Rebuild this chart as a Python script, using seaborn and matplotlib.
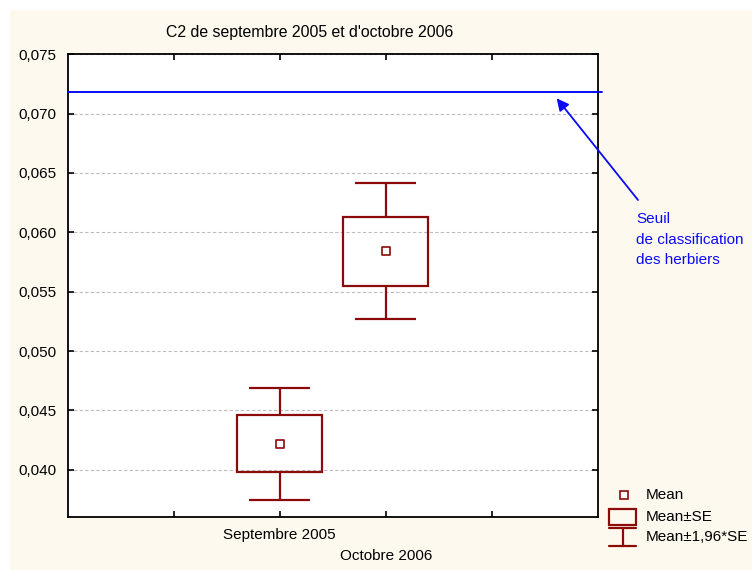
import numpy as np
import pandas as pd
import matplotlib
matplotlib.use("Agg")
import matplotlib.pyplot as plt
from matplotlib.patches import Rectangle
from matplotlib.lines import Line2D
from matplotlib.ticker import FuncFormatter, FixedLocator
import seaborn as sns

# Data: C2 means with standard errors per sampling campaign
categories = ["Septembre 2005", "Octobre 2006"]
positions = [2, 3]
means = [0.04218, 0.05840]
std_errs = [0.00241, 0.00292]
ci_factor = 1.96
threshold = 0.0718
y_ticks = [0.040, 0.045, 0.050, 0.055, 0.060, 0.065, 0.070, 0.075]

title = "C2 de septembre 2005 et d'octobre 2006"
note = "Seuil\nde classification\ndes herbiers"
legend_labels = ["Mean", "Mean±SE", "Mean±1,96*SE"]

df = pd.DataFrame({"cat": categories, "pos": positions,
                   "mean": means, "se": std_errs})

sns.set_theme(style="white")
plt.rcParams["font.family"] = ["Liberation Sans", "DejaVu Sans"]
FS = 11.0
RED = "#8B0A0A"
BLUE = "#0A0AF5"
CREAM = "#FEF9EE"

W, H = 752, 570
fig = plt.figure(figsize=(W / 100, H / 100), dpi=100, facecolor="white")
fig.patches.append(Rectangle((10 / W, 0), 1 - 10 / W, 1 - 10 / H,
                             transform=fig.transFigure, facecolor=CREAM,
                             edgecolor="none", zorder=-10))

ax = fig.add_axes([67.7 / W, 1 - 516.7 / H, (597.7 - 67.7) / W,
                   (516.7 - 54.3) / H])
ax.set_facecolor("white")

ax.set_xlim(0, 5)
ax.set_ylim(0.03604, 0.075)

# dashed horizontal grid
for yv in y_ticks:
    ax.axhline(yv, color="#BDBDBD", lw=0.8, ls=(0, (3, 2)), zorder=0)

box_w = 0.80
cap_w = 0.57
for _, r in df.iterrows():
    lo, hi = r["mean"] - r["se"], r["mean"] + r["se"]
    wlo, whi = r["mean"] - ci_factor * r["se"], r["mean"] + ci_factor * r["se"]
    ax.add_patch(Rectangle((r["pos"] - box_w / 2, lo), box_w, hi - lo,
                           facecolor="none", edgecolor=RED, lw=1.6, zorder=3))
    ax.vlines(r["pos"], hi, whi, color=RED, lw=1.6, zorder=3)
    ax.vlines(r["pos"], wlo, lo, color=RED, lw=1.6, zorder=3)
    ax.hlines([wlo, whi], r["pos"] - cap_w / 2, r["pos"] + cap_w / 2,
              color=RED, lw=1.6, zorder=3)

sns.scatterplot(data=df, x="pos", y="mean", marker="s", s=40,
                facecolor="white", edgecolor=RED, linewidth=1.2,
                ax=ax, zorder=4, legend=False)
ax.set_xlabel("")
ax.set_ylabel("")

# threshold line, extending slightly past the right frame
ax.axhline(threshold, xmin=0, xmax=1.0075, color=BLUE, lw=1.4,
           clip_on=False, zorder=5)

ax.annotate("", xy=(4.613, 0.07129), xycoords="data",
            xytext=(638 / W, 1 - 200 / H), textcoords="figure fraction",
            arrowprops=dict(arrowstyle="-|>", color=BLUE, lw=1.3,
                            mutation_scale=18, shrinkA=0, shrinkB=0),
            annotation_clip=False)
fig.text(636 / W, 1 - 212 / H, note, color=BLUE, fontsize=FS,
         ha="left", va="top", linespacing=1.6)

# axes frame and ticks
for s in ax.spines.values():
    s.set_visible(True)
    s.set_color("black")
    s.set_linewidth(1.3)
ax.xaxis.set_major_locator(FixedLocator([1, 2, 3, 4]))
ax.yaxis.set_major_locator(FixedLocator(y_ticks))
ax.yaxis.set_major_formatter(FuncFormatter(lambda v, p: f"{v:.3f}".replace(".", ",")))
ax.tick_params(axis="both", direction="in", length=4, width=1.2,
               color="black", top=True, right=True, bottom=True, left=True,
               labelsize=FS, labelcolor="black")
ax.tick_params(axis="y", pad=8)
ax.set_xticklabels([])

# staggered category labels
for i, (cat, pos) in enumerate(zip(categories, positions)):
    ax.text(pos, -18 / (516.7 - 54.3) - i * 21 / (516.7 - 54.3), cat,
            transform=ax.get_xaxis_transform(), ha="center", va="center",
            fontsize=FS, color="black")

fig.text(310 / W, 1 - 33 / H, title, ha="center", va="center",
         fontsize=11.4, color="black")

# legend
def fx(px):
    return px / W

def fy(py):
    return 1 - py / H

fig.add_artist(Line2D([fx(624.3)], [fy(495)], marker="s", markersize=5.8,
                      markerfacecolor="white", markeredgecolor=RED,
                      markeredgewidth=1.2, linestyle="none",
                      transform=fig.transFigure))
fig.add_artist(Rectangle((fx(609), fy(525)), fx(636) - fx(609),
                         fy(509) - fy(525), transform=fig.transFigure,
                         facecolor="none", edgecolor=RED, lw=1.6))
for yy in (528, 546):
    fig.add_artist(Line2D([fx(609), fx(636)], [fy(yy), fy(yy)], color=RED,
                          lw=1.6, transform=fig.transFigure))
fig.add_artist(Line2D([fx(622.5), fx(622.5)], [fy(528), fy(546)], color=RED,
                      lw=1.6, transform=fig.transFigure))
for lab, yy in zip(legend_labels, (495, 517, 537)):
    fig.text(fx(645.5), fy(yy), lab, ha="left", va="center", fontsize=FS,
             color="black")

fig.savefig("out.png", dpi=100, facecolor="white")
